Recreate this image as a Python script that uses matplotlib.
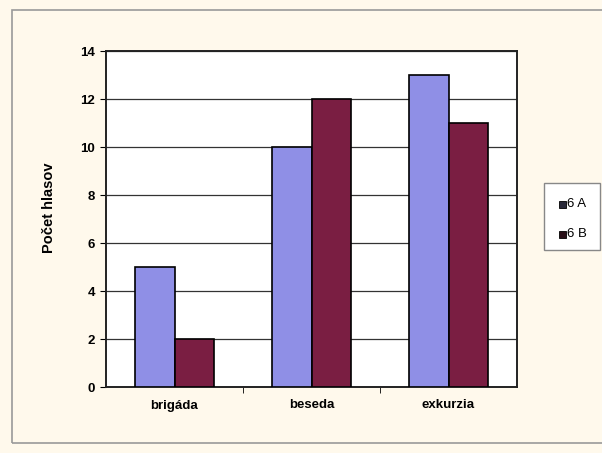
import matplotlib
matplotlib.use("Agg")
import matplotlib.pyplot as plt
from matplotlib.patches import Rectangle
import numpy as np

categories = ["brigáda", "beseda", "exkurzia"]
series_names = ["6 A", "6 B"]
values_6a = [5, 10, 13]
values_6b = [2, 12, 11]
colors = ["#8F8FE6", "#7A1E42"]
marker_colors = ["#2A2A3A", "#2A1018"]

plt.rcParams["font.family"] = ["Liberation Sans", "DejaVu Sans"]

W, H = 602, 453
fig = plt.figure(figsize=(W / 100, H / 100), dpi=100)
fig.patch.set_facecolor("#FFF9EC")


def fx(px):
    return px / W


def fy(py):
    return 1 - py / H


# outer chart frame
fig.add_artist(Rectangle((fx(12), fy(443)), 1.0, (443 - 10) / H,
                         transform=fig.transFigure, fill=False,
                         edgecolor="#9A9A9A", linewidth=1.2))

ax = fig.add_axes([fx(106), fy(387), 411 / W, 336 / H])
ax.set_facecolor("white")

x = np.arange(len(categories))
w = 0.285
ax.bar(x - w / 2, values_6a, w, color=colors[0], edgecolor="black",
       linewidth=1.2, zorder=3)
ax.bar(x + w / 2, values_6b, w, color=colors[1], edgecolor="black",
       linewidth=1.2, zorder=3)

ax.set_xlim(-0.5, len(categories) - 0.5)
ax.set_ylim(0, 14)
ax.set_yticks(np.arange(0, 15, 2))
ax.yaxis.grid(True, color="#333333", linewidth=0.9, zorder=0)
ax.set_axisbelow(True)

ax.set_xticks(x)
ax.set_xticklabels(categories, fontsize=9.5, fontweight="bold")
ax.tick_params(axis="x", length=0, pad=9)
ax.set_xticks(np.arange(0.5, len(categories) - 1, 1), minor=True)
ax.tick_params(axis="x", which="minor", length=4, direction="out")
ax.tick_params(axis="y", length=4, direction="out", labelsize=9.5, pad=4)
for lbl in ax.get_yticklabels():
    lbl.set_fontweight("bold")

for s in ax.spines.values():
    s.set_linewidth(1.4)
    s.set_color("#222222")

fig.text(fx(49), fy(208), "Počet hlasov", rotation=90, fontsize=10.5,
         fontweight="bold", ha="center", va="center")

# legend box
fig.add_artist(Rectangle((fx(544), fy(250)), (600 - 544) / W, (250 - 183) / H,
                         transform=fig.transFigure, facecolor="white",
                         edgecolor="#888888", linewidth=1.0))
for i, (name, mc) in enumerate(zip(series_names, marker_colors)):
    yc = 204 + i * 30
    fig.add_artist(Rectangle((fx(559), fy(yc + 3.5)), 7 / W, 7 / H,
                             transform=fig.transFigure, facecolor=mc,
                             edgecolor="black", linewidth=0.6))
    fig.text(fx(567), fy(yc), name, fontsize=9.5, ha="left", va="center")

fig.savefig("out.png", dpi=100, facecolor=fig.get_facecolor())
